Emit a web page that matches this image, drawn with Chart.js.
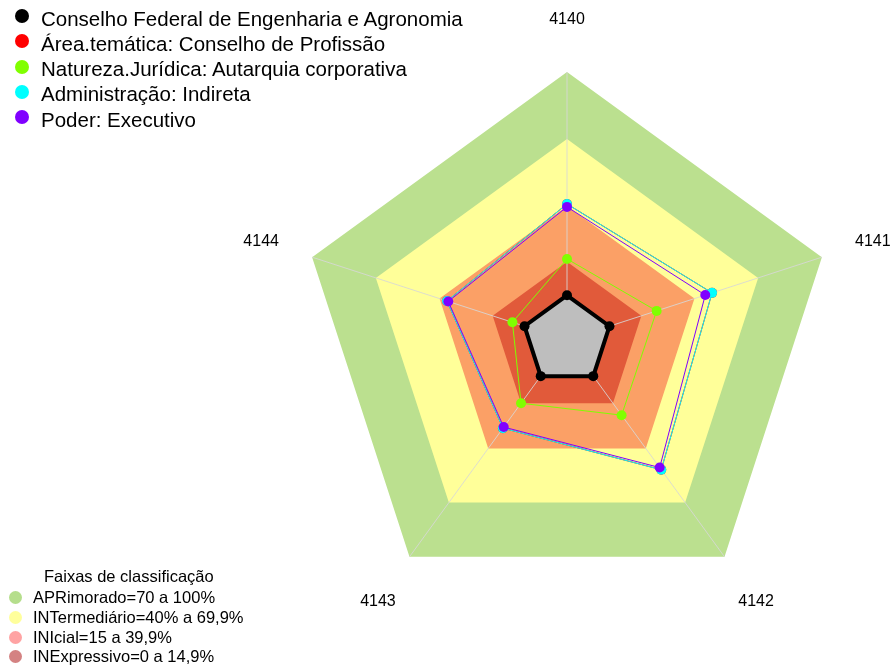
<!DOCTYPE html>
<html>
<head>
<meta charset="utf-8">
<script src="https://cdn.jsdelivr.net/npm/chart.js@4/dist/chart.umd.min.js"></script>
<style>
  body { margin: 0; background: #fff; font-family: "Liberation Sans", Arial, sans-serif; }
  #wrap { position: relative; width: 892px; height: 668px; }
  #chart { position: absolute; left: 0; top: 0; }
  .row { position: absolute; white-space: nowrap; color: #000; }
  .dot { position: absolute; border-radius: 50%; }
</style>
</head>
<body>
<div id="wrap">
  <canvas id="chart" width="892" height="668"></canvas>
  <div id="legendTop"></div>
  <div id="legendBands"></div>
</div>
<script>
// axes of the radar
const axisLabels = ['4140', '4141', '4142', '4143', '4144'];

// series (percent)
const seriesNames = [
  'Conselho Federal de Engenharia e Agronomia',
  'Área.temática: Conselho de Profissão',
  'Natureza.Jurídica: Autarquia corporativa',
  'Administração: Indireta',
  'Poder: Executivo'
];
const seriesColors = ['#000000', '#ff0000', '#80ff00', '#00ffff', '#8000ff'];
const conselhoFederal = [0, 0, 0, 0, 0];
const areaTematica = [40.9, 48.3, 51.8, 28.8, 36.5];
const naturezaJuridica = [16.3, 22.2, 21.6, 15.0, 5.7];
const administracao = [40.9, 48.3, 51.8, 28.8, 36.5];
const poder = [39.6, 45.1, 50.6, 28.2, 35.9];
const seriesValues = [conselhoFederal, areaTematica, naturezaJuridica, administracao, poder];

// classification bands (upper limit of each band)
const bandTitle = 'Faixas de classificação';
const bandNames = [
  'APRimorado=70 a 100%',
  'INTermediário=40% a 69,9%',
  'INIcial=15 a 39,9%',
  'INExpressivo=0 a 14,9%'
];
const bandLimits = [100, 70, 40, 15];
const bandFills = ['#bbe08f', '#ffff99', '#fba066', '#e15a3a'];
const bandLegendColors = ['#b5de8c', '#ffff9c', '#ffa3a3', '#d48282'];

// --- legends (html text) ---
const legendTop = document.getElementById('legendTop');
seriesNames.forEach((name, i) => {
  const base = 26 + i * 25.3;
  legendTop.innerHTML +=
    `<div class="dot" style="left:15px;top:${base - 17}px;width:14px;height:14px;background:${seriesColors[i]}"></div>` +
    `<div class="row" style="left:41px;top:${base - 17.5}px;font-size:20.5px;line-height:20px">${name}</div>`;
});

const legendBands = document.getElementById('legendBands');
legendBands.innerHTML =
  `<div class="row" style="left:44px;top:568px;font-size:16.5px;line-height:16px">${bandTitle}</div>`;
bandNames.forEach((name, i) => {
  const base = 603.3 + i * 19.7;
  legendBands.innerHTML +=
    `<div class="dot" style="left:9px;top:${base - 12}px;width:13px;height:13px;background:${bandLegendColors[i]}"></div>` +
    `<div class="row" style="left:33px;top:${base - 14}px;font-size:16.5px;line-height:16px">${name}</div>`;
});

// --- datasets, listed bottom to top ---
const layers = [];
bandLimits.forEach((limit, i) => {
  layers.push({
    label: bandNames[i],
    data: axisLabels.map(() => limit),
    backgroundColor: bandFills[i],
    borderWidth: 0,
    pointRadius: 0,
    fill: 'start'
  });
});
seriesNames.forEach((name, i) => {
  const isMain = i === 0;
  layers.push({
    label: name,
    data: seriesValues[i],
    borderColor: seriesColors[i],
    backgroundColor: isMain ? '#bebebe' : 'transparent',
    borderWidth: isMain ? 4 : 1,
    pointRadius: 5,
    pointBackgroundColor: seriesColors[i],
    pointBorderColor: seriesColors[i],
    pointBorderWidth: 0,
    fill: isMain ? 'start' : false
  });
});
// lower order is drawn on top
layers.forEach((ds, i) => { ds.order = layers.length - i; });
const lastBand = bandLimits.length - 1;

// spokes drawn over the bands, under the series
const spokes = {
  id: 'spokes',
  afterDatasetDraw(chart, args) {
    if (args.index !== lastBand) return;
    const r = chart.scales.r;
    const ctx = chart.ctx;
    ctx.save();
    ctx.strokeStyle = 'rgba(215,215,215,0.85)';
    ctx.lineWidth = 1;
    axisLabels.forEach((_, i) => {
      const p = r.getPointPositionForValue(i, r.max);
      ctx.beginPath();
      ctx.moveTo(r.xCenter, r.yCenter);
      ctx.lineTo(p.x, p.y);
      ctx.stroke();
    });
    ctx.restore();
  }
};

// axis labels at 1.2 times the outer radius
const axisNames = {
  id: 'axisNames',
  afterDraw(chart) {
    const r = chart.scales.r;
    const ctx = chart.ctx;
    ctx.save();
    ctx.fillStyle = '#000';
    ctx.font = '16px "Liberation Sans", Arial, sans-serif';
    ctx.textAlign = 'center';
    ctx.textBaseline = 'middle';
    axisLabels.forEach((label, i) => {
      const p = r.getPointPosition(i, r.drawingArea * 1.2);
      ctx.fillText(label, p.x, p.y + 1);
    });
    ctx.restore();
  }
};

new Chart(document.getElementById('chart'), {
  type: 'radar',
  data: { labels: axisLabels, datasets: layers },
  options: {
    responsive: false,
    animation: false,
    layout: { padding: { left: 299, right: 57, top: 72, bottom: 60 } },
    plugins: {
      legend: { display: false },
      tooltip: { enabled: false }
    },
    elements: { line: { tension: 0 } },
    scales: {
      r: {
        min: -20,
        max: 100,
        ticks: { display: false },
        grid: { display: false },
        angleLines: { display: false },
        pointLabels: { display: false }
      }
    }
  },
  plugins: [spokes, axisNames]
});
</script>
</body>
</html>
